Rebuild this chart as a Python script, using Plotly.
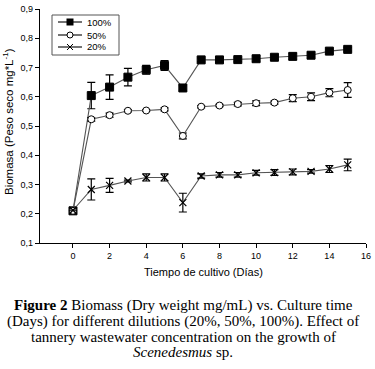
import plotly.graph_objects as go

days = list(range(16))
y100 = [0.21, 0.604, 0.633, 0.667, 0.692, 0.707, 0.630, 0.726, 0.726, 0.727, 0.730, 0.735, 0.738, 0.742, 0.756, 0.762]
e100 = [0.0, 0.045, 0.042, 0.030, 0.015, 0.017, 0.008, 0.007, 0.007, 0.007, 0.010, 0.008, 0.010, 0.010, 0.007, 0.006]
y50 = [0.21, 0.523, 0.537, 0.552, 0.553, 0.557, 0.466, 0.566, 0.570, 0.575, 0.578, 0.580, 0.595, 0.600, 0.614, 0.623]
e50 = [0.0, 0.006, 0.007, 0.004, 0.003, 0.005, 0.010, 0.004, 0.004, 0.006, 0.008, 0.005, 0.012, 0.013, 0.014, 0.025]
y20 = [0.212, 0.283, 0.297, 0.312, 0.324, 0.324, 0.238, 0.329, 0.333, 0.333, 0.340, 0.341, 0.343, 0.345, 0.353, 0.367]
e20 = [0.0, 0.036, 0.024, 0.003, 0.012, 0.012, 0.032, 0.007, 0.008, 0.008, 0.008, 0.010, 0.010, 0.006, 0.012, 0.020]
labels = ["100%", "50%", "20%"]
x_ticks = list(range(0, 17, 2))

W, H = 375, 369
L, R, T, B = 40, 9, 9, 126
PW, PH = W - L - R, H - T - B


def px(x):  # window pixel -> paper x
    return (x - L) / PW


def py(y):  # window pixel -> paper y
    return (H - B - y) / PH


LINE_COL = "#555555"
fig = go.Figure()
styles = [
    dict(symbol="square", size=8, color="black", line=dict(color="black", width=1)),
    dict(symbol="circle", size=7, color="white", line=dict(color="black", width=1)),
    dict(symbol="x-thin-open", size=7, color="black", line=dict(color="black", width=1.2)),
]
for ys, es, lab, mk in zip([y100, y50, y20], [e100, e50, e20], labels, styles):
    fig.add_trace(go.Scatter(
        x=days, y=ys, name=lab, mode="lines+markers",
        line=dict(color=LINE_COL, width=1.1),
        marker=mk, showlegend=False,
        error_y=dict(type="data", array=es, visible=True, color="black", thickness=1.2, width=4),
    ))

font = "Liberation Sans, Arial, sans-serif"
fig.update_layout(
    width=W, height=H,
    margin=dict(l=L, r=R, t=T, b=B),
    plot_bgcolor="white", paper_bgcolor="white",
    separators=",.",
    font=dict(family=font, size=9, color="black"),
    xaxis=dict(range=[-1.8, 16], tickvals=x_ticks, showgrid=False, zeroline=False, automargin=False,
               showline=True, linecolor="black", linewidth=1.2, ticks="outside", ticklen=4,
               tickcolor="black"),
    yaxis=dict(range=[0.1, 0.9], dtick=0.1, tickformat=".1f", showgrid=False, zeroline=False,
               automargin=False,
               showline=True, linecolor="black", linewidth=1.2, ticks="outside", ticklen=4,
               tickcolor="black"),
)

# axis titles
fig.add_annotation(xref="paper", yref="paper", x=px(8), y=py(122), xanchor="center", yanchor="middle",
                   textangle=-90, showarrow=False, font=dict(size=11.5),
                   text="Biomasa (Peso seco mg*L<sup>-1</sup>)")
fig.add_annotation(xref="paper", yref="paper", x=px(203), y=py(272), xanchor="center", yanchor="middle",
                   showarrow=False, font=dict(size=11), text="Tiempo de cultivo (Días)")

# legend box drawn manually
shapes = [dict(type="rect", xref="paper", yref="paper", x0=px(52), x1=px(119), y0=py(55), y1=py(15),
               line=dict(color="#555555", width=1), fillcolor="white", layer="above")]
rows = [22, 35, 47]
for r_y, lab in zip(rows, labels):
    shapes.append(dict(type="line", xref="paper", yref="paper", x0=px(58), x1=px(82), y0=py(r_y), y1=py(r_y),
                       line=dict(color="black", width=1.1), layer="above"))
    fig.add_annotation(xref="paper", yref="paper", x=px(85), y=py(r_y), xanchor="left", yanchor="middle",
                       showarrow=False, font=dict(size=9.5), text=lab)
cx = 70
shapes.append(dict(type="rect", xref="paper", yref="paper", x0=px(cx - 3.5), x1=px(cx + 3.5),
                   y0=py(rows[0] + 3.5), y1=py(rows[0] - 3.5), fillcolor="black", line=dict(width=0), layer="above"))
shapes.append(dict(type="circle", xref="paper", yref="paper", x0=px(cx - 3), x1=px(cx + 3),
                   y0=py(rows[1] + 3), y1=py(rows[1] - 3), fillcolor="white", line=dict(color="black", width=1),
                   layer="above"))
for d in (-1, 1):
    shapes.append(dict(type="line", xref="paper", yref="paper", x0=px(cx - 3), x1=px(cx + 3),
                       y0=py(rows[2] - 3 * d), y1=py(rows[2] + 3 * d), line=dict(color="black", width=1),
                       layer="above"))
fig.update_layout(shapes=shapes)

# caption
cap_lines = [
    "<b>Figure 2</b> Biomass (Dry weight mg/mL) vs. Culture time",
    "(Days) for different dilutions (20%, 50%, 100%). Effect of",
    "tannery wastewater concentration on the growth of",
    "<i>Scenedesmus</i> sp.",
]
cap_y = [305, 321, 337, 352]
for t, yy in zip(cap_lines, cap_y):
    fig.add_annotation(xref="paper", yref="paper", x=px(183), y=py(yy), xanchor="center", yanchor="middle",
                       showarrow=False,
                       font=dict(family="Liberation Serif, Times New Roman, serif", size=15, color="black"),
                       text=t)
fig.write_html("out.html", config={"displayModeBar": False},
               post_script="document.body.style.margin='0px';document.body.style.padding='0px';")
